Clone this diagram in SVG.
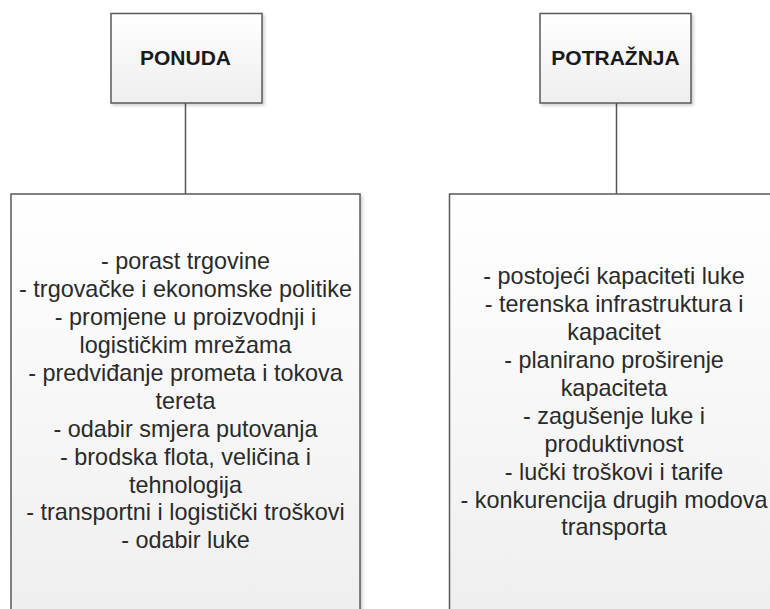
<svg xmlns="http://www.w3.org/2000/svg" width="770" height="609" viewBox="0 0 770 609">
<defs>
<linearGradient id="g" x1="0" y1="0" x2="0" y2="1">
<stop offset="0" stop-color="#ffffff"/>
<stop offset="1" stop-color="#eeeeee"/>
</linearGradient>
<filter id="sh" x="-10%" y="-10%" width="120%" height="120%">
<feDropShadow dx="2" dy="2" stdDeviation="1.5" flood-color="#000" flood-opacity="0.18"/>
</filter>
</defs>
<style>
.box{fill:url(#g);stroke:#5a5a5a;stroke-width:1.5;filter:url(#sh)}
.title{font-family:"Liberation Sans",Arial,sans-serif;font-weight:bold;font-size:21px;fill:#1a1a1a;text-anchor:middle}
.body{font-family:"Liberation Sans",Arial,sans-serif;font-size:23.4px;fill:#2a2a2a;text-anchor:middle}
.conn{stroke:#555;stroke-width:1.5;fill:none}
</style>
<g id="connectors">
<line class="conn" x1="185.5" y1="103" x2="185.5" y2="194"/>
<line class="conn" x1="616.5" y1="103" x2="616.5" y2="194"/>
</g>
<g id="ponuda">
<rect class="box" x="111" y="13.5" width="151" height="89.5"/>
<text class="title" x="185.5" y="65">PONUDA</text>
</g>
<g id="potraznja">
<rect class="box" x="540" y="13.5" width="151" height="89.5"/>
<text class="title" x="615.5" y="65">POTRAŽNJA</text>
</g>
<g id="ponuda-faktori">
<rect class="box" x="11" y="194" width="349" height="440"/>
<text class="body" x="185.5" y="269.3">- porast trgovine</text>
<text class="body" x="185.5" y="297.2">- trgovačke i ekonomske politike</text>
<text class="body" x="185.5" y="325.1">- promjene u proizvodnji i</text>
<text class="body" x="185.5" y="353">logističkim mrežama</text>
<text class="body" x="185.5" y="380.9">- predviđanje prometa i tokova</text>
<text class="body" x="185.5" y="408.8">tereta</text>
<text class="body" x="185.5" y="436.7">- odabir smjera putovanja</text>
<text class="body" x="185.5" y="464.6">- brodska flota, veličina i</text>
<text class="body" x="185.5" y="492.5">tehnologija</text>
<text class="body" x="185.5" y="520.4">- transportni i logistički troškovi</text>
<text class="body" x="185.5" y="548.3">- odabir luke</text>
</g>
<g id="potraznja-faktori">
<rect class="box" x="449.5" y="194" width="340" height="440"/>
<text class="body" x="614" y="284.3">- postojeći kapaciteti luke</text>
<text class="body" x="614" y="312.2">- terenska infrastruktura i</text>
<text class="body" x="614" y="340.1">kapacitet</text>
<text class="body" x="614" y="368">- planirano proširenje</text>
<text class="body" x="614" y="395.9">kapaciteta</text>
<text class="body" x="614" y="423.8">- zagušenje luke i</text>
<text class="body" x="614" y="451.7">produktivnost</text>
<text class="body" x="614" y="479.6">- lučki troškovi i tarife</text>
<text class="body" x="614" y="507.5">- konkurencija drugih modova</text>
<text class="body" x="614" y="535.4">transporta</text>
</g>
</svg>
